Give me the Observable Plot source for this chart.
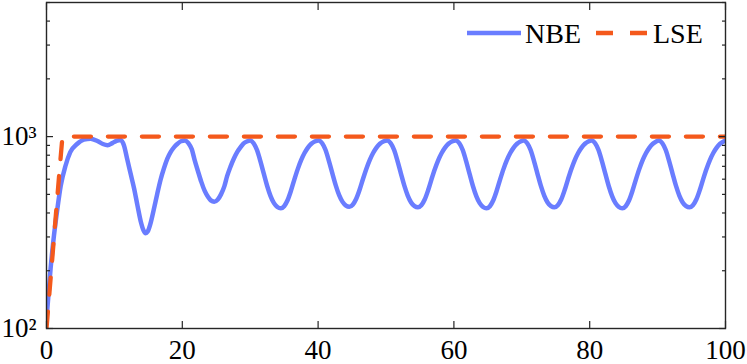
<!DOCTYPE html>
<html><head><meta charset="utf-8">
<script src="https://cdn.jsdelivr.net/npm/d3@7"></script>
<script src="https://cdn.jsdelivr.net/npm/@observablehq/plot@0.6"></script>
<style>
body{margin:0;background:#fff;}
svg{display:block}
</style>
</head><body><div id="chart"></div>
<script>
const nbeX = [0, 0.6, 1.1, 1.6, 2.1, 2.8, 3.5, 4.5, 5.5, 6.5, 7.5, 8.3, 9.0, 9.7, 10.3,
  10.9, 11.4, 11.9, 12.4, 12.9, 13.4, 13.9, 14.3, 14.6, 14.9, 15.3, 15.8, 16.3, 16.8, 17.3, 17.8, 18.3, 18.8, 19.3, 19.8,
  20.4, 20.9, 21.4, 21.8, 22.3, 22.8, 23.3, 23.8, 24.2, 24.7, 25.2, 25.7, 26.2, 26.6, 27.1, 27.6, 28.1, 28.6, 29.0, 29.5,
  30.0, 30.5, 31.0, 31.5, 32.0, 32.5, 33.0, 33.5, 34.0, 34.5, 35.0, 35.5, 36.0, 36.5, 37.0, 37.5, 38.0, 38.5, 39.0, 39.5,
  40.1, 40.6, 41.1, 41.6, 42.1, 42.6, 43.1, 43.6, 44.1, 44.6, 45.1, 45.6, 46.1, 46.6, 47.1, 47.6, 48.1, 48.6, 49.1, 49.6,
  50.2, 50.7, 51.2, 51.7, 52.2, 52.7, 53.2, 53.7, 54.2, 54.7, 55.2, 55.7, 56.2, 56.7, 57.2, 57.7, 58.2, 58.7, 59.2, 59.7,
  60.3, 60.8, 61.3, 61.8, 62.3, 62.8, 63.3, 63.8, 64.3, 64.8, 65.3, 65.8, 66.3, 66.8, 67.3, 67.8, 68.3, 68.8, 69.3, 69.8,
  70.3, 70.8, 71.3, 71.8, 72.3, 72.8, 73.3, 73.8, 74.3, 74.8, 75.3, 75.8, 76.3, 76.8, 77.3, 77.8, 78.3, 78.8, 79.3, 79.8,
  80.3, 80.8, 81.3, 81.8, 82.3, 82.8, 83.3, 83.8, 84.3, 84.8, 85.3, 85.8, 86.3, 86.8, 87.3, 87.8, 88.3, 88.8, 89.3, 89.8,
  90.2, 90.7, 91.2, 91.7, 92.2, 92.7, 93.2, 93.7, 94.2, 94.7, 95.2, 95.7, 96.2, 96.7, 97.2, 97.7, 98.2, 98.7, 99.2, 99.7, 100];
const nbeY = [112, 205, 305, 420, 555, 705, 830, 915, 965, 975, 948, 915, 902, 925, 950,
  961, 902, 759, 638, 537, 437, 359, 324, 314, 320, 351, 417, 501, 596, 684, 767, 832, 881, 918, 946,
  955, 925, 859, 759, 662, 581, 521, 484, 465, 458, 469, 500, 552, 622, 698, 769, 832, 883, 920, 944,
  955, 923, 851, 745, 641, 553, 490, 450, 430, 423, 434, 466, 522, 597, 677, 754, 821, 877, 918, 944,
  955, 923, 851, 745, 643, 557, 495, 457, 437, 431, 442, 473, 527, 600, 679, 755, 822, 877, 918, 944,
  955, 923, 851, 745, 642, 555, 493, 454, 434, 428, 439, 470, 525, 599, 678, 755, 822, 877, 918, 944,
  955, 923, 851, 745, 641, 553, 490, 450, 430, 423, 434, 466, 522, 597, 677, 754, 821, 877, 918, 944,
  955, 923, 851, 745, 642, 555, 493, 454, 434, 428, 439, 470, 525, 599, 678, 755, 822, 877, 918, 944,
  955, 923, 851, 745, 641, 553, 490, 450, 430, 423, 434, 466, 522, 597, 677, 754, 821, 877, 918, 944,
  955, 923, 851, 745, 642, 555, 493, 454, 434, 428, 439, 470, 525, 599, 678, 755, 822, 877, 918, 944, 953];
const lseX = [0, 1, 2, 2.35, 100];
const lseY = [100, 269, 721, 1000, 1000];

const seriesNames = ["NBE", "LSE"];
const seriesColors = ["#6a7dff", "#f4591c"];
const xTicks = [0, 20, 40, 60, 80, 100];
const xTickLabels = ["0", "20", "40", "60", "80", "100"];
const yMajor = [100, 1000];
const yMajorLabels = ["10\u00B2", "10\u00B3"];
const yMinor = [200, 300, 400, 500, 600, 700, 800, 900, 2000, 3000, 4000, 5000];

const nbe = nbeX.map((x, i) => ({x, y: nbeY[i]}));
const lse = lseX.map((x, i) => ({x, y: lseY[i]}));

const font = "Liberation Serif, DejaVu Serif, Noto Serif, serif";
const axisColor = "#262626";

const plot = Plot.plot({
  width: 747, height: 364,
  marginLeft: 46, marginRight: 22, marginTop: 2, marginBottom: 36,
  style: {background: "#fff", overflow: "visible", color: "#000"},
  x: {domain: [0, 100], axis: null},
  y: {type: "log", domain: [100, 5000], axis: null},
  marks: [
    Plot.line(nbe, {x: "x", y: "y", stroke: seriesColors[0], strokeWidth: 4.5, curve: "monotone-x", clip: true}),
    Plot.line(lse, {x: "x", y: "y", stroke: seriesColors[1], strokeWidth: 4.3, strokeDasharray: "17,17", clip: true}),
    Plot.frame({stroke: axisColor, strokeWidth: 1.4}),
    Plot.axisX(xTicks, {anchor: "bottom", tickSize: -7, fill: "none", stroke: axisColor, strokeWidth: 1.2}),
    Plot.axisX(xTicks, {anchor: "top", tickSize: -7, fill: "none", stroke: axisColor, strokeWidth: 1.2}),
    Plot.axisY(yMajor, {anchor: "left", tickSize: -7, fill: "none", stroke: axisColor, strokeWidth: 1.2}),
    Plot.axisY(yMajor, {anchor: "right", tickSize: -7, fill: "none", stroke: axisColor, strokeWidth: 1.2}),
    Plot.axisY(yMinor, {anchor: "left", tickSize: -4, fill: "none", stroke: axisColor, strokeWidth: 1.2}),
    Plot.axisY(yMinor, {anchor: "right", tickSize: -4, fill: "none", stroke: axisColor, strokeWidth: 1.2}),
    Plot.axisX(xTicks, {anchor: "bottom", tickSize: 0, tickPadding: 11, fontSize: 27, fill: "#000", label: null,
      tickFormat: d => xTickLabels[xTicks.indexOf(d)]}),
    Plot.axisY(yMajor, {anchor: "left", tickSize: 0, tickPadding: 10, fontSize: 27, fill: "#000", label: null,
      tickFormat: d => yMajorLabels[yMajor.indexOf(d)]})
  ]
});

// legend (inside the plot, top right, no box)
const svg = d3.select(plot);
const lg = svg.append("g").attr("font-size", 28).attr("text-anchor", "start");
lg.append("line").attr("x1", 467).attr("x2", 521).attr("y1", 33).attr("y2", 33)
  .attr("stroke", seriesColors[0]).attr("stroke-width", 4.5);
lg.append("text").attr("x", 525).attr("y", 43).text(seriesNames[0]);
lg.append("line").attr("x1", 596).attr("x2", 648).attr("y1", 33).attr("y2", 33)
  .attr("stroke", seriesColors[1]).attr("stroke-width", 4.3).attr("stroke-dasharray", "17,17");
lg.append("text").attr("x", 653).attr("y", 43).text(seriesNames[1]);
svg.selectAll("text").attr("font-family", font);

document.getElementById("chart").appendChild(plot);
</script>
</body></html>
